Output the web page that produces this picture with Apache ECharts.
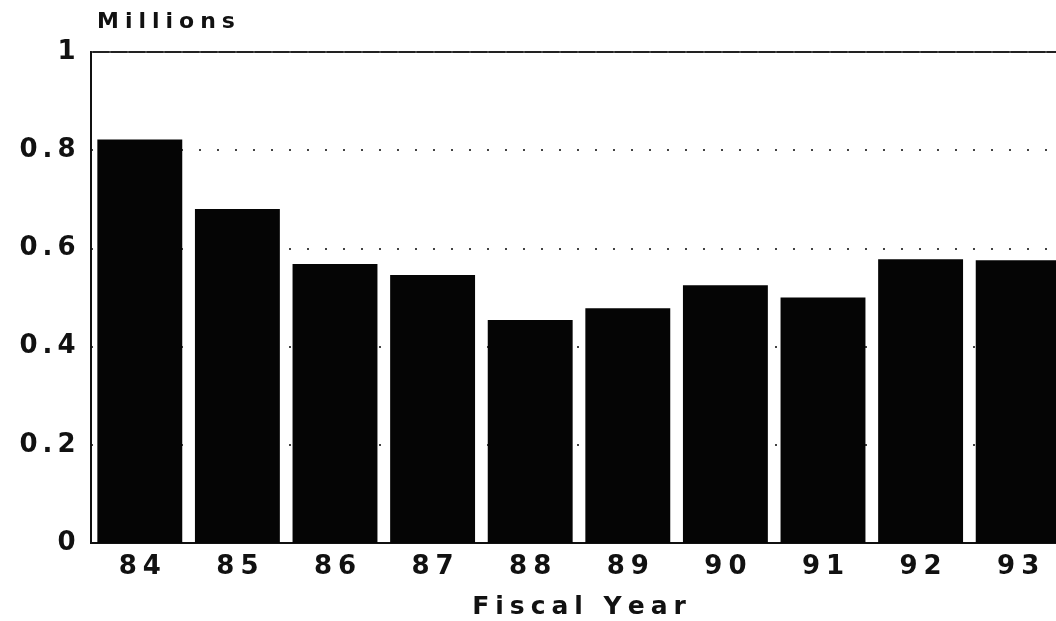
<!DOCTYPE html>
<html>
<head>
<meta charset="utf-8">
<script src="https://cdn.jsdelivr.net/npm/echarts@6/dist/echarts.min.js"></script>
<style>
  html, body { margin: 0; padding: 0; background: #fff; }
  #chart { width: 1056px; height: 621px; }
</style>
</head>
<body>
<div id="chart"></div>
<script>
// fiscal years
const years = ['84', '85', '86', '87', '88', '89', '90', '91', '92', '93']
// values in millions
const values = [0.822, 0.680, 0.568, 0.546, 0.454, 0.478, 0.525, 0.500, 0.578, 0.576]
// y axis ticks
const yTicks = [0, 0.2, 0.4, 0.6, 0.8, 1]

const font = '"DejaVu Sans", "Liberation Sans", sans-serif'

// wide, letter-spaced labels like the original print
const spaced = text => String(text).split('').map(c => '{s|' + c + '}').join('')
const richStyle = (size, pad) => ({
  s: { color: '#111', fontFamily: font, fontSize: size, fontWeight: 'bold', padding: [0, pad] }
})

const chart = echarts.init(document.getElementById('chart'))

const option = {
  backgroundColor: '#fff',
  animation: false,
  title: {
    text: spaced('Millions'),
    left: 89,
    top: 6,
    textStyle: { rich: richStyle(22, 3) }
  },
  grid: {
    left: 91,
    top: 52,
    width: 976,
    bottom: 78,
    outerBoundsMode: 'none',
    show: true,
    borderColor: '#222',
    borderWidth: 2
  },
  xAxis: {
    type: 'category',
    data: years,
    name: spaced('Fiscal Year'),
    nameLocation: 'middle',
    nameGap: 52,
    nameTextStyle: { rich: richStyle(25, 3) },
    axisLine: { lineStyle: { color: '#111', width: 2 } },
    axisTick: { show: false },
    axisLabel: {
      margin: 11,
      formatter: v => spaced(v),
      rich: richStyle(26, 3)
    }
  },
  yAxis: {
    type: 'value',
    min: 0,
    max: 1,
    interval: 0.2,
    axisLine: { show: true, lineStyle: { color: '#111', width: 2 } },
    axisTick: { show: false },
    axisLabel: {
      margin: 13,
      formatter: v => spaced(yTicks.find(t => Math.abs(t - v) < 1e-9) ?? v),
      rich: richStyle(26, 2.5)
    },
    splitLine: {
      lineStyle: { color: '#444', width: 2, type: [2, 16] }
    }
  },
  series: [{
    type: 'bar',
    data: values,
    barCategoryGap: '13%',
    itemStyle: { color: '#050505' }
  }]
}

chart.setOption(option)
</script>
</body>
</html>
